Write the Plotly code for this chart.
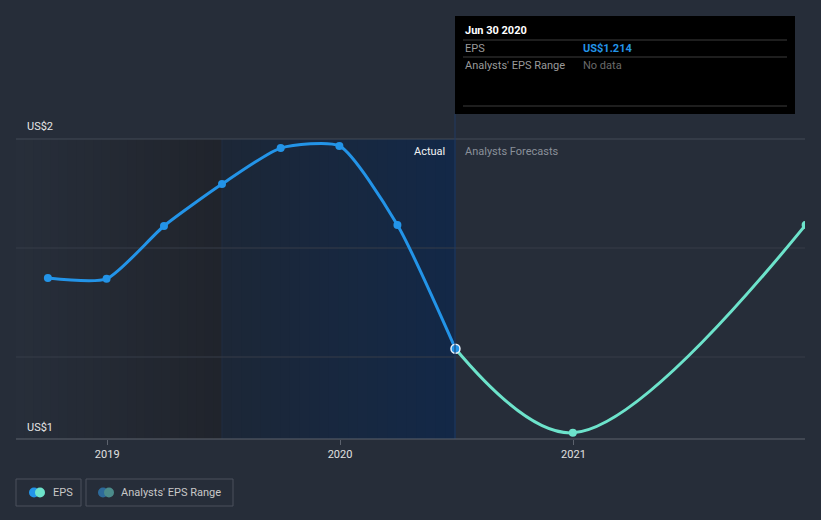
import plotly.graph_objects as go

# ---- data ----
actual_dates = ["2018-09-30", "2018-12-31", "2019-03-31", "2019-06-30",
                "2019-09-30", "2019-12-31", "2020-03-31", "2020-06-30"]
actual_eps = [1.479, 1.476, 1.674, 1.831, 1.966, 1.974, 1.678, 1.214]
forecast_dates = ["2020-06-30", "2020-12-31", "2021-12-31"]
forecast_eps = [1.214, 0.899, 1.678]
tick_dates = ["2019-01-01", "2020-01-01", "2021-01-01"]
tick_labels = ["2019", "2020", "2021"]

BG = "#262d39"
BLUE = "#2394e8"
TEAL = "#6de3cb"

W, H = 821, 520
L, R, T, B = 16, 805, 139, 439   # plot area in pixels


def px(x):
    return (x - L) / (R - L)


def py(y):
    return (B - y) / (B - T)


def lerp(c1, c2, t):
    a = [int(c1[i:i + 2], 16) for i in (1, 3, 5)]
    b = [int(c2[i:i + 2], 16) for i in (1, 3, 5)]
    return "#" + "".join(f"{round(a[k] + (b[k] - a[k]) * t):02x}" for k in range(3))


fig = go.Figure()

fig.add_trace(go.Scatter(
    x=actual_dates, y=actual_eps, mode="lines+markers",
    line=dict(color=BLUE, width=3, shape="spline", smoothing=0.6),
    marker=dict(size=8, color=BLUE), hoverinfo="skip", showlegend=False))
fig.add_trace(go.Scatter(
    x=forecast_dates, y=forecast_eps, mode="lines+markers",
    line=dict(color=TEAL, width=3, shape="spline", smoothing=1.0),
    marker=dict(size=8, color=TEAL), hoverinfo="skip", showlegend=False))
# highlighted point
fig.add_trace(go.Scatter(
    x=[actual_dates[-1]], y=[actual_eps[-1]], mode="markers",
    marker=dict(size=9, color=BLUE, line=dict(color="#e8f1fb", width=1.5)),
    hoverinfo="skip", showlegend=False))

shapes = []
# gradient band 1: plot left edge -> Jun 30 2019
n = 24
x0p, x1p = L, 222
for i in range(n):
    a = x0p + (x1p - x0p) * i / n
    b = x0p + (x1p - x0p) * (i + 1) / n
    shapes.append(dict(type="rect", xref="paper", yref="paper", x0=px(a), x1=px(b) + 0.001,
                       y0=0, y1=1, fillcolor=lerp("#272e3a", "#20242c", i / (n - 1)),
                       line_width=0, layer="below"))
# gradient band 2: Jun 30 2019 -> Jun 30 2020
x0p, x1p = 222, 455
for i in range(n):
    a = x0p + (x1p - x0p) * i / n
    b = x0p + (x1p - x0p) * (i + 1) / n
    shapes.append(dict(type="rect", xref="paper", yref="paper", x0=px(a), x1=px(b) + 0.001,
                       y0=0, y1=1, fillcolor=lerp("#1c2737", "#132847", i / (n - 1)),
                       line_width=0, layer="below"))
shapes.append(dict(type="line", xref="paper", yref="paper", x0=px(222), x1=px(222), y0=0, y1=1,
                   line=dict(color="#1e2c42", width=1), layer="below"))
# gridlines
for gy in (139, 248, 357):
    shapes.append(dict(type="line", xref="paper", yref="paper", x0=0, x1=1, y0=py(gy), y1=py(gy),
                       line=dict(color="#434a56" if gy == 139 else "#363d49", width=1), layer="below"))
# vertical "now" line
shapes.append(dict(type="line", xref="paper", yref="paper", x0=px(455), x1=px(455), y0=0, y1=py(114),
                   line=dict(color="#203a62", width=1)))
# bottom axis line
shapes.append(dict(type="line", xref="paper", yref="paper", x0=0, x1=1, y0=0, y1=0,
                   line=dict(color="#5c626d", width=1)))
# tooltip box
shapes.append(dict(type="rect", xref="paper", yref="paper", x0=px(455), x1=px(795),
                   y0=py(114), y1=py(16), fillcolor="#000000", line_width=0))
for sy in (40, 57, 106):
    shapes.append(dict(type="line", xref="paper", yref="paper", x0=px(463), x1=px(787),
                       y0=py(sy), y1=py(sy), line=dict(color="#3d3d3d", width=1)))
# legend boxes
for (a, b) in ((16, 81), (86, 233)):
    shapes.append(dict(type="rect", xref="paper", yref="paper", x0=px(a), x1=px(b),
                       y0=py(506), y1=py(479), line=dict(color="#4a515c", width=1),
                       fillcolor="rgba(0,0,0,0)"))
# legend icons (overlapping dots)
def dot(cx, cy, r, color):
    return dict(type="circle", xref="paper", yref="paper", x0=px(cx - r), x1=px(cx + r),
                y0=py(cy + r), y1=py(cy - r), fillcolor=color, line_width=0)
shapes += [dot(34, 492.5, 5, BLUE), dot(40, 492.5, 5, TEAL),
           dot(103, 492.5, 5, "#2d6a9a"), dot(109, 492.5, 5, "#4b8b8a")]

ann = []
def text(x, y, s, color, size=11, xanchor="left", bold=False, family="Roboto, Arial, sans-serif"):
    ann.append(dict(xref="paper", yref="paper", x=px(x), y=py(y), text=f"<b>{s}</b>" if bold else s,
                    showarrow=False, xanchor=xanchor, yanchor="middle",
                    font=dict(color=color, size=size, family=family)))

text(25, 127, "US$2", "#e6e6e6", 11)
text(25, 427, "US$1", "#e6e6e6", 11)
text(447, 151, "Actual", "#f2f2f2", 11, xanchor="right")
text(463, 151, "Analysts Forecasts", "#8a9099", 11)
text(463, 31, "Jun 30 2020", "#ffffff", 11, bold=True)
text(463, 48, "EPS", "#9a9a9a", 11)
text(581, 48, "US$1.214", BLUE, 11, bold=True)
text(463, 65, "Analysts' EPS Range", "#9a9a9a", 11)
text(581, 65, "No data", "#6a6a6a", 11)
text(51, 492.5, "EPS", "#c8c8c8", 11)
text(119, 492.5, "Analysts' EPS Range", "#c8c8c8", 11)

fig.update_layout(
    width=W, height=H,
    margin=dict(l=L, r=W - R, t=T, b=H - B),
    paper_bgcolor=BG, plot_bgcolor=BG,
    shapes=shapes, annotations=ann,
    showlegend=False,
    font=dict(family="Roboto, Arial, sans-serif", color="#e6e6e6", size=11),
    xaxis=dict(type="date", range=["2018-08-11", "2021-12-30"], showgrid=False, zeroline=False,
               tickvals=tick_dates, ticktext=tick_labels, ticks="outside", ticklen=5,
               tickcolor="#5c626d", tickfont=dict(color="#e0e0e0", size=11), showline=False),
    yaxis=dict(range=[0.876, 2.0], showgrid=False, zeroline=False, showticklabels=False,
               showline=False, fixedrange=True),
)

fig.write_html("out.html")
